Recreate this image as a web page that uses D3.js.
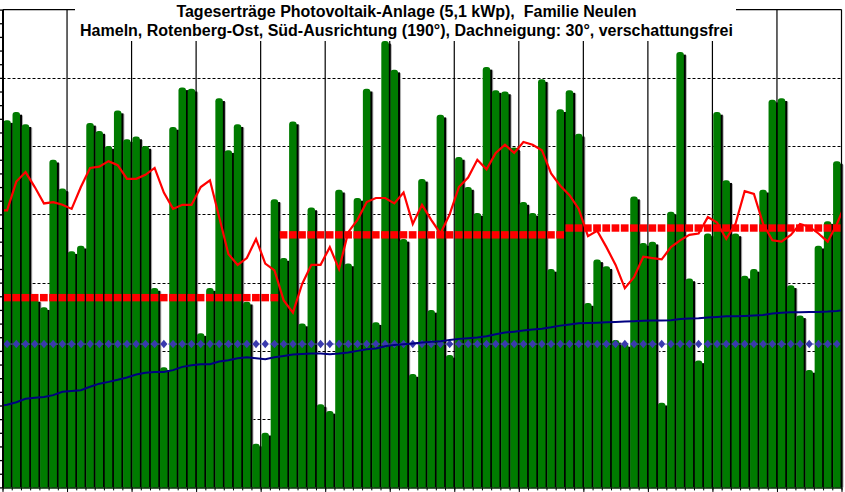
<!DOCTYPE html>
<html>
<head>
<meta charset="utf-8">
<script src="https://cdn.jsdelivr.net/npm/d3@7"></script>
<style>
body { margin: 0; background: #fff; }
svg { display: block; }
</style>
</head>
<body>
<script>
var titleLines = [
	"Tageserträge Photovoltaik-Anlage (5,1 kWp),  Familie Neulen",
	"Hameln, Rotenberg-Ost, Süd-Ausrichtung (190°), Dachneigung: 30°, verschattungsfrei"
]

// daily yield in kWh, 1 April .. 30 June
var yields = [
	26.9, 27.5, 26.6, 13.8, 13.2, 24.0, 21.9, 17.3, 17.7, 26.7,
	26.1, 25.0, 27.6, 25.5, 25.7, 25.0, 14.6, 8.8, 26.4, 29.3,
	29.2, 11.3, 14.6, 28.5, 24.7, 26.6, 13.6, 3.2, 4.0, 21.1,
	16.8, 26.8, 12.0, 20.5, 6.1, 5.6, 21.8, 16.4, 21.2, 29.2,
	12.1, 32.7, 30.6, 18.2, 8.3, 22.6, 13.0, 27.3, 9.7, 24.2,
	22.0, 20.1, 30.8, 29.1, 29.0, 24.9, 20.9, 20.1, 29.9, 16.0,
	27.7, 29.1, 25.9, 13.5, 16.7, 16.2, 10.8, 10.5, 21.3, 17.9,
	18.0, 6.2, 20.2, 31.9, 15.3, 9.3, 18.6, 27.5, 22.5, 18.6,
	15.5, 16.0, 21.8, 28.4, 28.5, 14.8, 12.6, 8.6, 17.7, 19.5,
	23.9
]

// moving average, from the day before 1 April to the day after 30 June
var movingAvg = [
	20.3,
	20.3, 22.4, 23.1, 22.0, 20.8, 20.9, 20.7, 20.4, 22.0, 23.4,
	23.5, 23.9, 23.6, 22.6, 22.6, 22.9, 23.4, 21.6, 20.4, 20.7,
	20.7, 22.0, 22.5, 19.8, 17.1, 16.3, 16.8, 18.2, 16.4, 15.9,
	13.7, 12.8, 14.9, 16.3, 16.3, 17.6, 16.0, 18.7, 19.6, 20.9,
	21.2, 21.2, 20.8, 21.6, 19.3, 20.7, 19.6, 18.6, 20.0, 22.0,
	22.7, 24.0, 23.3, 24.5, 25.1, 24.5, 25.3, 25.1, 24.7, 23.0,
	22.1, 21.4, 20.4, 18.4, 18.8, 17.6, 16.3, 14.6, 15.4, 16.9,
	16.8, 16.7, 17.6, 18.1, 18.5, 18.6, 19.8, 19.4, 18.2, 19.3,
	21.7, 21.5, 19.3, 18.1, 18.0, 18.5, 19.3, 19.1, 18.6, 18.0,
	19.3,
	20.9
]

// running average since start of year, same day range as movingAvg
var runningAvg = [
	5.95,
	6.05, 6.24, 6.49, 6.56, 6.63, 6.76, 7.00, 7.07, 7.12, 7.37,
	7.60, 7.73, 7.88, 8.05, 8.27, 8.39, 8.46, 8.46, 8.59, 8.83,
	8.95, 9.02, 9.02, 9.22, 9.32, 9.46, 9.54, 9.46, 9.39, 9.54,
	9.63, 9.73, 9.78, 9.80, 9.80, 9.76, 9.80, 9.88, 10.00, 10.12,
	10.17, 10.34, 10.44, 10.49, 10.54, 10.61, 10.66, 10.71, 10.80, 10.88,
	10.93, 10.98, 11.07, 11.22, 11.34, 11.41, 11.49, 11.56, 11.63, 11.73,
	11.85, 11.93, 12.02, 12.05, 12.07, 12.10, 12.12, 12.15, 12.17, 12.20,
	12.22, 12.22, 12.24, 12.34, 12.37, 12.39, 12.44, 12.49, 12.54, 12.54,
	12.56, 12.59, 12.63, 12.73, 12.80, 12.83, 12.83, 12.85, 12.85, 12.88,
	12.93,
	13.0
]

var months = ["April", "Mai", "Juni"]
var monthDays = [30, 31, 30]
var monthTarget = [13.9, 18.5, 19.0]

var refLevel = 10.5
var yTicks = d3.range(0, 36)
var gridValues = [5, 10, 15, 20, 25, 30]

var W = 845, H = 492
var plotL = 2.5, plotR = 841.5, plotT = 9.6, plotB = 487.4

var svg = d3.select("body").append("svg")
	.attr("width", W)
	.attr("height", H)
	.style("font-family", "'Liberation Sans', Arial, sans-serif")

var nDays = yields.length
var dayIdx = d3.range(nDays)

var x = d3.scaleBand().domain(dayIdx).range([plotL, plotR]).padding(0)
var xLin = d3.scaleLinear().domain([0, nDays]).range([plotL, plotR])
var y = d3.scaleLinear().domain([0, 35]).range([plotB, plotT])
var step = x.bandwidth()
var barW = step * 0.815

// per day target from monthly values
var targetPerDay = []
months.forEach(function(m, k) {
	for (var d = 0; d < monthDays[k]; ++d) targetPerDay.push(monthTarget[k])
})

svg.append("defs").append("clipPath").attr("id", "plot")
	.append("rect")
	.attr("x", plotL).attr("y", 0)
	.attr("width", plotR - plotL).attr("height", plotB)

// dashed horizontal grid
svg.append("g").selectAll("line")
	.data(gridValues)
	.enter().append("line")
	.attr("x1", plotL).attr("x2", plotR)
	.attr("y1", function(d) { return Math.round(y(d)) + 0.5 })
	.attr("y2", function(d) { return Math.round(y(d)) + 0.5 })
	.attr("stroke", "#000")
	.attr("stroke-width", 1)
	.attr("stroke-dasharray", "3,2")

// week separators
svg.append("g").selectAll("line")
	.data(d3.range(7, nDays, 7))
	.enter().append("line")
	.attr("x1", function(d) { return xLin(d) })
	.attr("x2", function(d) { return xLin(d) })
	.attr("y1", plotT).attr("y2", plotB)
	.attr("stroke", "#000")
	.attr("stroke-width", 1.2)

// bar shadows first, then the bars
var bars = svg.append("g")

bars.selectAll("rect.gray")
	.data(yields)
	.enter().append("rect")
	.attr("class", "gray")
	.attr("x", function(d, i) { return x(i) + 0.8 + 3 })
	.attr("y", function(d) { return y(d) + 3.5 })
	.attr("width", barW)
	.attr("height", function(d) { return Math.max(0, plotB - y(d) - 3.5) })
	.attr("fill", "#b4b4b4")

bars.selectAll("rect.shadow")
	.data(yields)
	.enter().append("rect")
	.attr("class", "shadow")
	.attr("x", function(d, i) { return x(i) + 0.8 + 2 })
	.attr("y", function(d) { return y(d) + 2.7 })
	.attr("width", barW)
	.attr("height", function(d) { return Math.max(0, plotB - y(d) - 2.7) })
	.attr("fill", "#000")

function roundTop(x0, y0, w, h, r) {
	var p = d3.path()
	p.moveTo(x0, y0 + h)
	p.lineTo(x0, y0 + r)
	p.quadraticCurveTo(x0, y0, x0 + r, y0)
	p.lineTo(x0 + w - r, y0)
	p.quadraticCurveTo(x0 + w, y0, x0 + w, y0 + r)
	p.lineTo(x0 + w, y0 + h)
	p.closePath()
	return p.toString()
}

bars.selectAll("path.bar")
	.data(yields)
	.enter().append("path")
	.attr("class", "bar")
	.attr("d", function(d, i) {
		return roundTop(x(i) + 0.8, y(d), barW, plotB - y(d), 3)
	})
	.attr("fill", "#007b00")

// reference level with diamonds
svg.append("line")
	.attr("x1", x(0) + step / 2).attr("x2", x(nDays - 1) + step / 2)
	.attr("y1", y(refLevel)).attr("y2", y(refLevel))
	.attr("stroke", "#6060c0")
	.attr("stroke-width", 1)
	.attr("stroke-dasharray", "2,1.5")

svg.append("g").selectAll("path")
	.data(dayIdx)
	.enter().append("path")
	.attr("d", function(i) {
		var cx = x(i) + step / 2, cy = y(refLevel)
		return "M" + cx + "," + (cy - 4.3) + "L" + (cx + 3.6) + "," + cy +
			"L" + cx + "," + (cy + 4.3) + "L" + (cx - 3.6) + "," + cy + "Z"
	})
	.attr("fill", "#3a3aae")

// lines (index 0 is the day before the first bar)
var lineGen = d3.line()
	.x(function(d, k) { return x(0) + step / 2 + (k - 1) * step })
	.y(function(d) { return y(d) })

svg.append("path")
	.datum(runningAvg)
	.attr("clip-path", "url(#plot)")
	.attr("d", lineGen)
	.attr("fill", "none")
	.attr("stroke", "#000080")
	.attr("stroke-width", 2)

// monthly target blocks
svg.append("g").selectAll("rect")
	.data(targetPerDay)
	.enter().append("rect")
	.attr("x", function(d, i) { return x(i) + 0.6 })
	.attr("y", function(d) { return y(d) - 3.7 })
	.attr("width", step - 1.5)
	.attr("height", 7.4)
	.attr("fill", "#ff0000")

svg.append("path")
	.datum(movingAvg)
	.attr("clip-path", "url(#plot)")
	.attr("d", lineGen)
	.attr("fill", "none")
	.attr("stroke", "#ff0000")
	.attr("stroke-width", 2.2)

// axes
svg.append("g")
	.attr("transform", "translate(" + plotL + ",0)")
	.call(d3.axisLeft(y).tickValues(yTicks).tickSize(3).tickSizeOuter(0).tickFormat(""))
	.call(function(g) {
		g.select(".domain").attr("stroke-width", 2)
		g.selectAll(".tick line").attr("stroke-width", 1.3)
	})

svg.append("g")
	.attr("transform", "translate(0," + plotB + ")")
	.call(d3.axisBottom(xLin).tickValues(d3.range(0, nDays + 1)).tickSize(3).tickSizeOuter(0).tickFormat(""))
	.call(function(g) {
		g.select(".domain").attr("stroke", "#003000").attr("stroke-width", 1.5)
	})

svg.append("g")
	.attr("transform", "translate(0," + plotB + ")")
	.call(d3.axisBottom(xLin).tickValues(d3.range(0, nDays + 1, 7)).tickSize(5).tickSizeOuter(0).tickFormat(""))
	.call(function(g) { g.select(".domain").remove() })

// frame top and right
svg.append("line")
	.attr("x1", plotL).attr("x2", plotR)
	.attr("y1", plotT).attr("y2", plotT)
	.attr("stroke", "#000").attr("stroke-width", 1.2)
svg.append("line")
	.attr("x1", plotR).attr("x2", plotR)
	.attr("y1", plotT).attr("y2", plotB)
	.attr("stroke", "#000").attr("stroke-width", 1.2)

// title box
svg.append("rect")
	.attr("x", 75).attr("y", 0)
	.attr("width", 661).attr("height", 41)
	.attr("fill", "#fff")

svg.append("g").selectAll("text")
	.data(titleLines)
	.enter().append("text")
	.attr("x", 406.5)
	.attr("y", function(d, i) { return 17 + i * 18.5 })
	.attr("text-anchor", "middle")
	.attr("font-size", "16px")
	.attr("font-weight", "bold")
	.attr("fill", "#000")
	.style("white-space", "pre")
	.text(function(d) { return d })
</script>
</body>
</html>
